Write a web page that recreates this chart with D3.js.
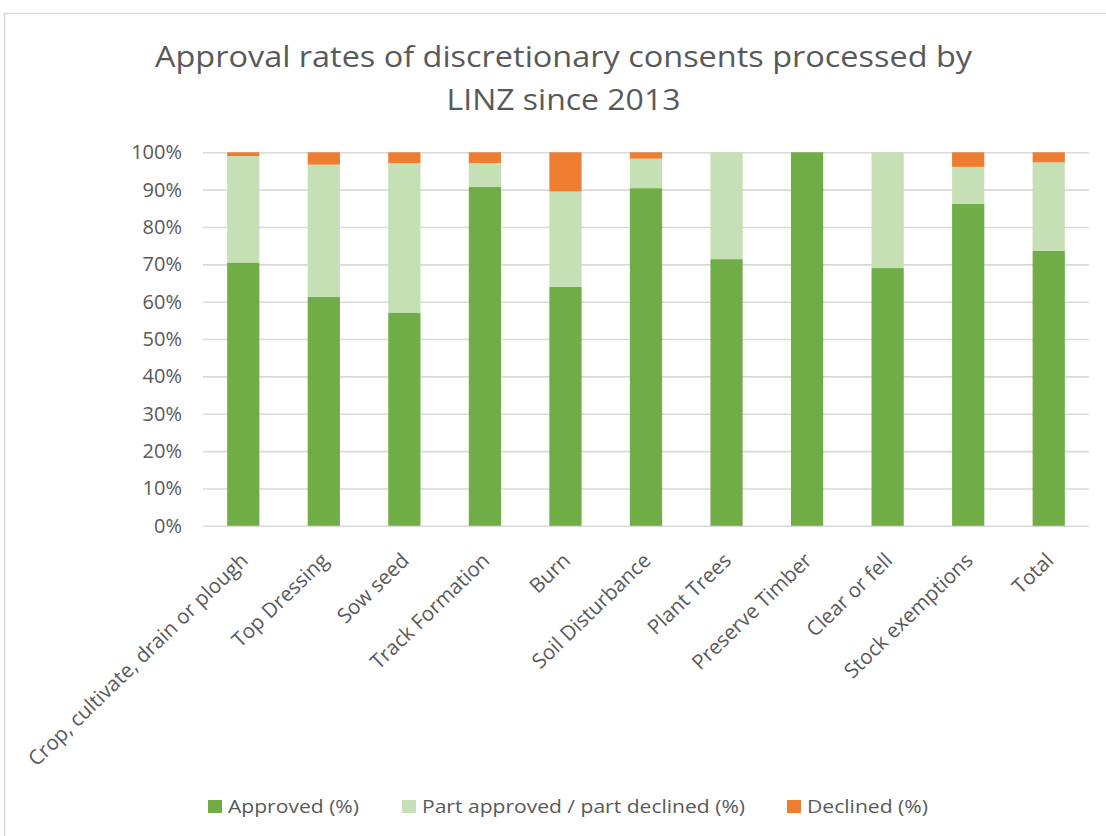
<!DOCTYPE html>
<html><head><meta charset="utf-8">
<script src="https://cdn.jsdelivr.net/npm/d3@7"></script>
<style>body{margin:0;background:#fff}svg{display:block}</style>
</head><body>
<svg id="c" width="1106" height="836"></svg>
<script>
const categories = ["Crop, cultivate, drain or plough","Top Dressing","Sow seed","Track Formation","Burn","Soil Disturbance","Plant Trees","Preserve Timber","Clear or fell","Stock exemptions","Total"];
const approved = [70.5, 61.3, 57.1, 90.7, 64.0, 90.4, 71.4, 100, 69.0, 86.2, 73.6];
const partApproved = [28.5, 35.4, 40.0, 6.4, 25.5, 7.9, 28.6, 0, 31.0, 9.9, 23.7];
const declined = [1.0, 3.3, 2.9, 2.9, 10.5, 1.7, 0, 0, 0, 3.9, 2.7];
const seriesNames = ["Approved (%)","Part approved / part declined (%)","Declined (%)"];
const colors = ["#70AD47","#C5E0B4","#ED7D31"];
const yTicks = [0,10,20,30,40,50,60,70,80,90,100];
const titleLines = ["Approval rates of discretionary consents processed by","LINZ since 2013"];

const FONT = "Open Sans";
const svg = d3.select("#c");
svg.append("rect").attr("x",4.5).attr("y",13.5).attr("width",1110).attr("height",840)
  .attr("fill","#fff").attr("stroke","#d9d9d9").attr("stroke-width",1.5);

const m = {l:203, r:1089, t:152.3, b:525.8};
const x = d3.scaleBand().domain(categories).range([m.l,m.r]).paddingInner(0.6).paddingOuter(0.3);
const y = d3.scaleLinear().domain([0,100]).range([m.b,m.t]);

// title
const titleW = [817, 234];
svg.append("g").selectAll("text").data(titleLines).join("text")
  .attr("x",563.5).attr("y",(d,i)=>67+i*43).attr("text-anchor","middle")
  .attr("font-family",FONT).attr("font-size",28.5).attr("fill","#595959")
  .attr("textLength",(d,i)=>titleW[i]).attr("lengthAdjust","spacingAndGlyphs")
  .text(d=>d);

// grid + y labels
const yAxis = d3.axisLeft(y).tickValues(yTicks).tickFormat(d=>d+"%").tickSize(-(m.r-m.l)).tickPadding(21);
const gy = svg.append("g").attr("transform",`translate(${m.l},0)`).call(yAxis);
gy.select(".domain").remove();
gy.selectAll(".tick line").attr("stroke","#d9d9d9").attr("stroke-width",1.6);
gy.selectAll(".tick text").attr("font-family",FONT).attr("font-size",20).attr("fill","#595959");

// bars
const stackData = categories.map((c,i)=>({cat:c, a:approved[i], p:partApproved[i], d:declined[i]}));
const stack = d3.stack().keys(["a","p","d"])(stackData);
svg.append("g").selectAll("g").data(stack).join("g").attr("fill",(d,i)=>colors[i])
  .selectAll("rect").data(d=>d).join("rect")
  .attr("x",d=>x(d.data.cat)).attr("width",x.bandwidth())
  .attr("y",d=>y(d[1])).attr("height",d=>Math.max(0,y(d[0])-y(d[1])));

// x labels
const xAxis = d3.axisBottom(x).tickSize(0).tickPadding(0);
const gx = svg.append("g").attr("transform",`translate(0,${m.b})`).call(xAxis);
gx.select(".domain").remove();
gx.selectAll(".tick text").attr("font-family",FONT).attr("font-size",20.5).attr("fill","#595959")
  .attr("text-anchor","end").attr("dy","0.35em").attr("y",0)
  .attr("transform","translate(1,31) rotate(-44)");

// legend
const lx = [208, 402, 787];
const lw = [131, 323, 121];
const lg = svg.append("g").selectAll("g").data(seriesNames).join("g")
  .attr("transform",(d,i)=>`translate(${lx[i]},800)`);
lg.append("rect").attr("width",14).attr("height",13).attr("fill",(d,i)=>colors[i]);
lg.append("text").attr("x",20).attr("y",6.5).attr("dy","0.35em").attr("font-family",FONT)
  .attr("font-size",18.5).attr("fill","#595959")
  .attr("textLength",(d,i)=>lw[i]).attr("lengthAdjust","spacingAndGlyphs").text(d=>d);
</script>
</body></html>
